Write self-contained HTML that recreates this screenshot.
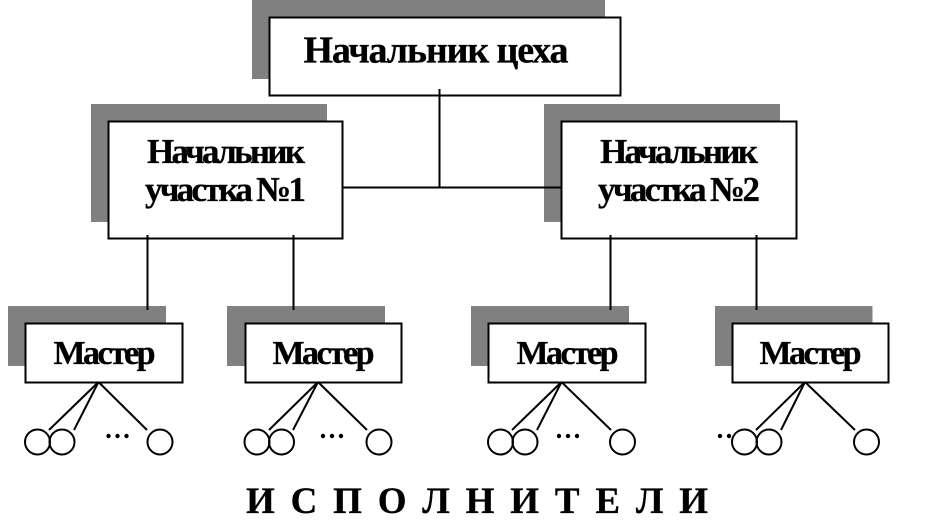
<!DOCTYPE html>
<html><head><meta charset="utf-8"><style>
html,body{margin:0;padding:0;background:#fff;width:950px;height:526px;overflow:hidden}
svg{display:block}
text{font-family:"Liberation Serif",serif;font-weight:bold;fill:#000;stroke:#000;stroke-width:.3px}
</style></head><body>
<svg width="950" height="526" viewBox="0 0 950 526" xmlns="http://www.w3.org/2000/svg">
<g fill="#808080">
<rect x="252" y="0" width="353" height="79"/>
<rect x="91" y="104" width="236" height="118"/>
<rect x="544" y="104" width="236" height="118"/>
<rect x="8" y="306" width="158" height="60"/>
<rect x="227" y="306" width="158" height="60"/>
<rect x="471" y="306" width="158" height="60"/>
<rect x="715" y="306" width="157.500" height="60"/>
</g>
<g fill="#fff" stroke="#000" stroke-width="2">
<rect x="269.500" y="17.500" width="351" height="78"/>
<rect x="108.500" y="121.500" width="234" height="117"/>
<rect x="561.500" y="121.500" width="235" height="117"/>
<rect x="25.500" y="323.500" width="157" height="59"/>
<rect x="245.500" y="323.500" width="156" height="59"/>
<rect x="488.500" y="323.500" width="157" height="59"/>
<rect x="732.500" y="323.500" width="156" height="59"/>
</g>
<g stroke="#000" stroke-width="2" fill="none">
<path d="M439.500 89V187.500M343 187.500H562"/>
<path d="M147.500 235V310M293.500 235V310M610.500 235V310M756.500 235V310"/>
<path d="M98.500 382L49 430M98.500 382L74 430M98.500 382L147 430"/>
<path d="M318 382L269 430M318 382L293 430M318 382L367 430"/>
<path d="M561.500 382L512 430M561.500 382L537 430M561.500 382L611 430"/>
<path d="M805 382L756 430M805 382L781 430M805 382L855 430"/>
<circle cx="37.500" cy="442" r="12.500"/><circle cx="62" cy="442" r="12.500"/><circle cx="160" cy="442" r="12.500"/>
<circle cx="257" cy="442" r="12.500"/><circle cx="281.500" cy="442" r="12.500"/><circle cx="379" cy="442" r="12.500"/>
<circle cx="500.500" cy="442" r="12.500"/><circle cx="525" cy="442" r="12.500"/><circle cx="622.500" cy="442" r="12.500"/>
<circle cx="744.500" cy="442" r="12.500"/><circle cx="769" cy="442" r="12.500"/><circle cx="866.500" cy="442" r="12.500"/>
</g>
<g fill="#000">
<circle cx="108.500" cy="436" r="2.200"/><circle cx="117.500" cy="436" r="2.200"/><circle cx="126.500" cy="436" r="2.200"/>
<circle cx="323" cy="436" r="2.200"/><circle cx="332" cy="436" r="2.200"/><circle cx="341" cy="436" r="2.200"/>
<circle cx="559" cy="436" r="2.200"/><circle cx="568" cy="436" r="2.200"/><circle cx="577" cy="436" r="2.200"/>
<circle cx="720" cy="436" r="2.200"/><circle cx="729" cy="436" r="2.200"/>
</g>
<text x="303.500" y="62.500" font-size="38" textLength="265" lengthAdjust="spacing">Начальник цеха</text>
<text x="147" y="163" font-size="35" textLength="158" lengthAdjust="spacing">Начальник</text>
<text x="145" y="201" font-size="35" textLength="161" lengthAdjust="spacing">участка №1</text>
<text x="600" y="163" font-size="35" textLength="158" lengthAdjust="spacing">Начальник</text>
<text x="598" y="201" font-size="35" textLength="162" lengthAdjust="spacing">участка №2</text>
<text x="53.500" y="364" font-size="34" textLength="102" lengthAdjust="spacing">Мастер</text>
<text x="272.500" y="364" font-size="34" textLength="102" lengthAdjust="spacing">Мастер</text>
<text x="516.500" y="364" font-size="34" textLength="102" lengthAdjust="spacing">Мастер</text>
<text x="759.500" y="364" font-size="34" textLength="102" lengthAdjust="spacing">Мастер</text>
<text x="246" y="513" font-size="37" textLength="462" lengthAdjust="spacing" xml:space="preserve">И С П О Л Н И Т Е Л И</text>
</svg>
</body></html>
